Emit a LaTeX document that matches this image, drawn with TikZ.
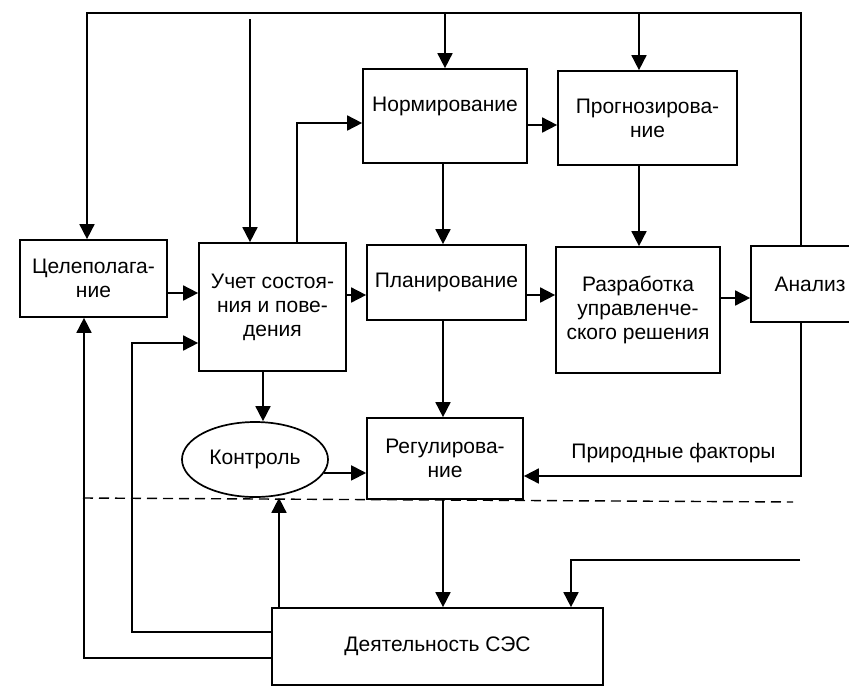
\documentclass[tikz,border=0pt]{standalone}
\usepackage{fontspec}
\setmainfont{Liberation Sans}
\usetikzlibrary{arrows.meta,shapes.geometric}
\begin{document}
\begin{tikzpicture}[
        x=1pt, y=-1pt,
        line width=1.7pt,
        every node/.style={font=\fontsize{21}{24}\selectfont, inner sep=0pt, align=center},
        block/.style={rectangle, draw},
        arr/.style={-{Triangle[length=15pt, width=15pt]}},
        sep/.style={line width=1.4pt, dash pattern=on 10pt off 6pt}
    ]
        \useasboundingbox (0,0) rectangle (849,686);
        \clip (0,0) rectangle (849,686);

        % Блоки
        \node [block, minimum width=147pt, minimum height=77pt] (goal) at (93.5,278.5) {Целеполага-\\ние};
        \node [block, minimum width=147pt, minimum height=128pt] (acct) at (272.5,307) {Учет состоя-\\ния и пове-\\дения};
        \node [block, minimum width=164pt, minimum height=94pt] (norm) at (445,116) {Нормирование\\\mbox{}};
        \node [block, minimum width=179pt, minimum height=94pt] (fore) at (647.5,118) {Прогнозирова-\\ние};
        \node [block, minimum width=159pt, minimum height=75pt] (plan) at (446.5,282.5) {Планирование};
        \node [block, minimum width=164pt, minimum height=126pt] (dev) at (638,310) {Разработка\\управленче-\\ского решения};
        \node [block, minimum width=118pt, minimum height=76pt] (anal) at (810,284) {Анализ};
        \node [ellipse, draw, minimum width=146pt, minimum height=75pt] (ctrl) at (255,459.5) {Контроль};
        \node [block, minimum width=156pt, minimum height=81pt] (reg) at (445,458.5) {Регулирова-\\ние};
        \node [block, minimum width=331pt, minimum height=77pt] (act) at (437.5,646.5) {Деятельность СЭС};
        \node (nat) at (673.5,453) {Природные факторы};

        \coordinate (topL) at (87,13);
        \coordinate (topR) at (801,13);
        \coordinate (colF) at (639,0);
        \coordinate (inAcct) at (250,19);
        \coordinate (loopA) at (132,343);
        \coordinate (ext) at (800,560);
        \coordinate (dashL) at (83,498);
        \coordinate (dashR) at (793,502);

        % Верхняя обратная связь
        \draw [arr] (anal.north -| topR) -- (topR) -- (topL) -- (goal.north -| topL);
        \draw [arr] (norm.north |- topL) -- (norm.north);
        \draw [arr] (colF |- topL) -- (colF |- fore.north);
        \draw [arr] (inAcct) -- (acct.north -| inAcct);

        % Основные связи
        \draw [arr] (acct.north -| 297,0) |- (norm.west |- 0,123);
        \draw [arr] (norm.east |- 0,125) -- (fore.west |- 0,125);
        \draw [arr] (norm.south -| 443,0) -- (plan.north -| 443,0);
        \draw [arr] (colF |- fore.south) -- (colF |- dev.north);
        \draw [arr] (goal.east |- 0,293) -- (acct.west |- 0,293);
        \draw [arr] (acct.east |- 0,295) -- (plan.west |- 0,295);
        \draw [arr] (plan.east |- 0,295) -- (dev.west |- 0,295);
        \draw [arr] (dev.east |- 0,298) -- (anal.west |- 0,298);
        \draw [arr] (plan.south -| 443,0) -- (reg.north -| 443,0);
        \draw [arr] (acct.south -| 263,0) -- (ctrl.north -| 263,0);
        \draw [arr] (ctrl.-11) -- (reg.west |- ctrl.-11);
        \draw [arr] (anal.south -| topR) |- (reg.east |- 0,476);
        \draw [arr] (reg.south -| 443,0) -- (act.north -| 443,0);

        % Обратные связи снизу
        \draw [arr] (act.north -| 279,0) -- (ctrl.south -| 279,0);
        \draw [arr] (act.west |- 0,632) -| (loopA) -- (acct.west |- loopA);
        \draw [arr] (act.west |- 0,658) -| (goal.south -| 84,0);
        \draw [arr] (ext) -| (act.north -| 571,0);

        \draw [sep] (dashL) -- (dashR);
    \end{tikzpicture}
\end{document}
